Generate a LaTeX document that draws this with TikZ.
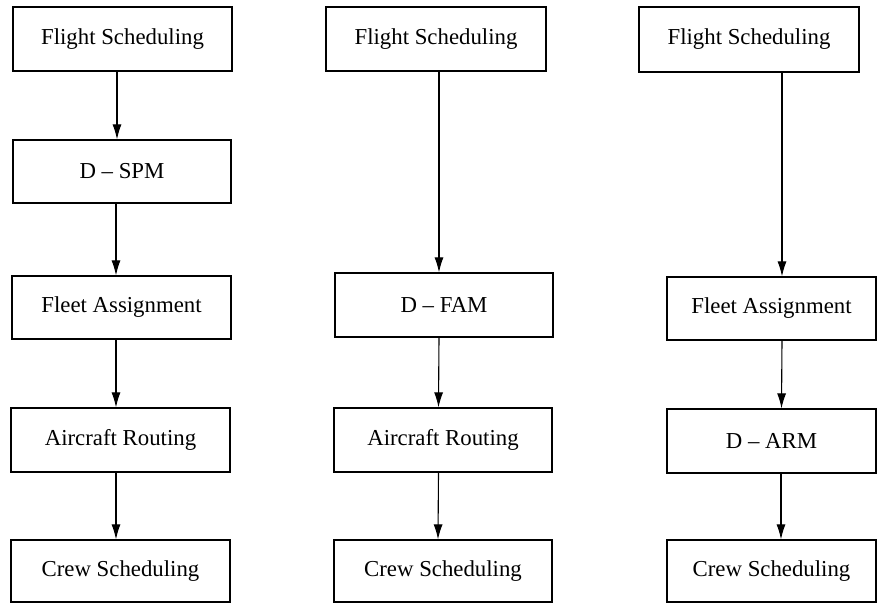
\documentclass[tikz,border=0pt]{standalone}
\usepackage{fontspec}
\setmainfont{Liberation Serif}
\usetikzlibrary{arrows.meta}
\begin{document}
\begin{tikzpicture}[x=1pt,y=-1pt,
  box/.style={draw, line width=1.2pt, inner sep=0pt, font=\fontsize{22.8}{27}\selectfont},
  arr/.style={line width=1.1pt, -{Latex[length=15pt,width=9pt]}}]
\useasboundingbox (0,0) rectangle (878,604);
% column 1
\node[box, minimum width=219pt, minimum height=64pt] (a1) at (122.5,39) {Flight Scheduling};
\node[box, minimum width=218pt, minimum height=63pt] (a2) at (122,171.5) {D -- SPM};
\node[box, minimum width=219pt, minimum height=63pt] (a3) at (121.5,307.5) {Fleet Assignment};
\node[box, minimum width=219pt, minimum height=64pt] (a4) at (120.5,440) {Aircraft Routing};
\node[box, minimum width=219pt, minimum height=62pt] (a5) at (120.5,571) {Crew Scheduling};
\draw[arr] ([xshift=-5.5pt]a1.south) -- ([xshift=-5pt]a2.north);
\draw[arr] ([xshift=-6pt]a2.south) -- ([xshift=-5.5pt]a3.north);
\draw[arr] ([xshift=-5.5pt]a3.south) -- ([xshift=-4.5pt]a4.north);
\draw[arr] ([xshift=-4.5pt]a4.south) -- ([xshift=-4.5pt]a5.north);
% column 2
\node[box, minimum width=220pt, minimum height=64pt] (b1) at (436,39) {Flight Scheduling};
\node[box, minimum width=218pt, minimum height=64pt] (b2) at (444,305) {D -- FAM};
\node[box, minimum width=218pt, minimum height=64pt] (b3) at (443,440) {Aircraft Routing};
\node[box, minimum width=218pt, minimum height=62pt] (b4) at (443,571) {Crew Scheduling};
\draw[arr] ([xshift=3pt]b1.south) -- ([xshift=-5pt]b2.north);
\draw[arr] ([xshift=-5pt]b2.south) -- ([xshift=-4.5pt]b3.north);
\draw[arr] ([xshift=-4.5pt]b3.south) -- ([xshift=-5pt]b4.north);
% column 3
\node[box, minimum width=220pt, minimum height=65pt] (c1) at (749,39.5) {Flight Scheduling};
\node[box, minimum width=209pt, minimum height=63pt] (c2) at (771.5,308.5) {Fleet Assignment};
\node[box, minimum width=209pt, minimum height=64pt] (c3) at (771.5,441) {D -- ARM};
\node[box, minimum width=209pt, minimum height=62pt] (c4) at (771.5,571) {Crew Scheduling};
\draw[arr] ([xshift=33pt]c1.south) -- ([xshift=10.5pt]c2.north);
\draw[arr] ([xshift=10.5pt]c2.south) -- ([xshift=10pt]c3.north);
\draw[arr] ([xshift=9.5pt]c3.south) -- ([xshift=9.5pt]c4.north);
\end{tikzpicture}
\end{document}
